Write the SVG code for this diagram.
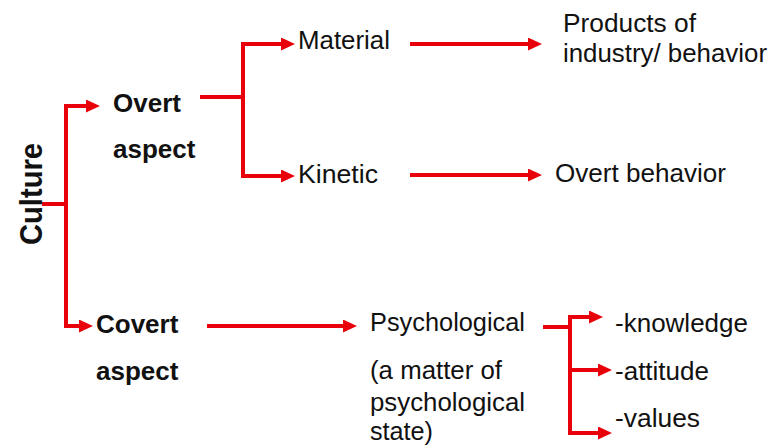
<svg xmlns="http://www.w3.org/2000/svg" width="773" height="448" viewBox="0 0 773 448">
<defs>
<marker id="ah" markerUnits="userSpaceOnUse" markerWidth="16" markerHeight="14" refX="2" refY="6.5" orient="auto">
<path d="M0,0 L14,6.5 L0,13 z" fill="#e8000b"/>
</marker>
<style>
.c{fill:none;stroke:#e8000b;stroke-width:4;stroke-linejoin:miter}
.a{marker-end:url(#ah)}
.t{font-family:"Liberation Sans",Arial,sans-serif;font-size:25px;fill:#111}
.b{font-family:"Liberation Sans",Arial,sans-serif;font-size:26px;font-weight:bold;fill:#111}
</style>
</defs>
<rect width="773" height="448" fill="#fff"/>
<g id="connectors">
<path class="c" d="M42,204 H66"/>
<path class="c a" d="M66,204 V106 H88"/>
<path class="c a" d="M66,204 V326 H81"/>
<path class="c" d="M200,97 H243"/>
<path class="c a" d="M243,97 V44 H283"/>
<path class="c a" d="M243,97 V176 H283"/>
<path class="c a" d="M410,44 H530"/>
<path class="c a" d="M410,175 H530"/>
<path class="c a" d="M207,326 H345"/>
<path class="c" d="M543,327 H570"/>
<path class="c a" d="M570,327 V317 H591"/>
<path class="c a" d="M570,327 V370 H600"/>
<path class="c a" d="M570,327 V433 H600"/>
</g>
<g id="culture"><text class="b" style="font-size:32px" text-anchor="middle" textLength="102" lengthAdjust="spacingAndGlyphs" transform="translate(42,194) rotate(-90)">Culture</text></g>
<g id="overt"><text class="b" x="113" y="112">Overt</text><text class="b" x="113" y="158">aspect</text></g>
<g id="covert"><text class="b" x="96" y="333">Covert</text><text class="b" x="96" y="380">aspect</text></g>
<g id="material"><text class="t" x="298" y="49" textLength="92" lengthAdjust="spacingAndGlyphs">Material</text></g>
<g id="kinetic"><text class="t" x="298" y="183" textLength="80" lengthAdjust="spacingAndGlyphs">Kinetic</text></g>
<g id="products"><text class="t" x="563" y="32" textLength="133" lengthAdjust="spacingAndGlyphs">Products of</text><text class="t" x="563" y="62" textLength="204" lengthAdjust="spacingAndGlyphs">industry/ behavior</text></g>
<g id="overt-behavior"><text class="t" x="555" y="182" textLength="171" lengthAdjust="spacingAndGlyphs">Overt behavior</text></g>
<g id="psychological"><text class="t" x="370" y="331" textLength="155" lengthAdjust="spacingAndGlyphs">Psychological</text><text class="t" x="370" y="379" textLength="132" lengthAdjust="spacingAndGlyphs">(a matter of</text><text class="t" x="370" y="411" textLength="155" lengthAdjust="spacingAndGlyphs">psychological</text><text class="t" x="370" y="440" textLength="63" lengthAdjust="spacingAndGlyphs">state)</text></g>
<g id="knowledge"><text class="t" x="615" y="332" textLength="133" lengthAdjust="spacingAndGlyphs">-knowledge</text></g>
<g id="attitude"><text class="t" x="615" y="380" textLength="94" lengthAdjust="spacingAndGlyphs">-attitude</text></g>
<g id="values"><text class="t" x="615" y="427" textLength="85" lengthAdjust="spacingAndGlyphs">-values</text></g>
</svg>
